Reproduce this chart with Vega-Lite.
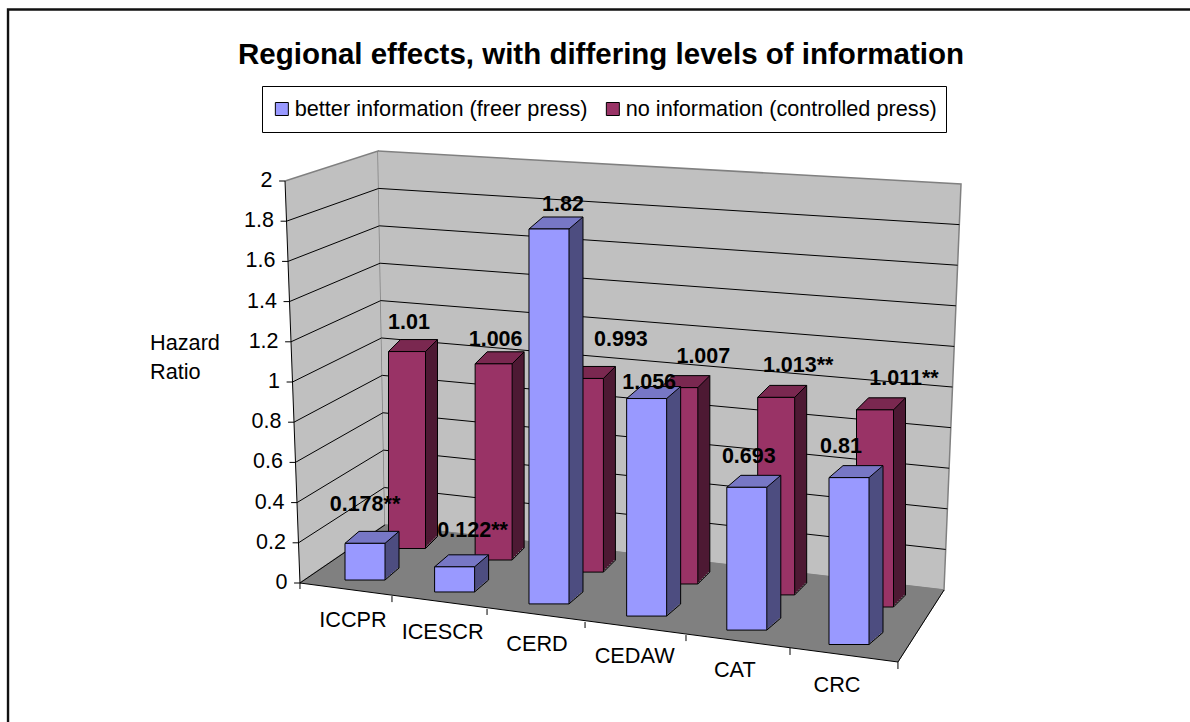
{
"$schema":"https://vega.github.io/schema/vega-lite/v6.json",
"width":1190,"height":722,"padding":0,"autosize":{"type":"none"},"background":"white",
"config":{"view":{"stroke":null},"font":"Liberation Sans"},
"title":{"text":"Regional effects, with differing levels of information","anchor":"middle","frame":"group","fontSize":29.5,"fontWeight":"bold","font":"Liberation Sans","color":"black","offset":-70,"dx":6},
"datasets":{
"bars":[
{"treaty":"ICCPR","n":1,"series":"better information (freer press)","value":0.178,"label":"0.178**"},
{"treaty":"ICESCR","n":2,"series":"better information (freer press)","value":0.122,"label":"0.122**"},
{"treaty":"CERD","n":3,"series":"better information (freer press)","value":1.82,"label":"1.82"},
{"treaty":"CEDAW","n":4,"series":"better information (freer press)","value":1.056,"label":"1.056"},
{"treaty":"CAT","n":5,"series":"better information (freer press)","value":0.693,"label":"0.693"},
{"treaty":"CRC","n":6,"series":"better information (freer press)","value":0.81,"label":"0.81"},
{"treaty":"ICCPR","n":1,"series":"no information (controlled press)","value":1.01,"label":"1.01"},
{"treaty":"ICESCR","n":2,"series":"no information (controlled press)","value":1.006,"label":"1.006"},
{"treaty":"CERD","n":3,"series":"no information (controlled press)","value":0.993,"label":"0.993"},
{"treaty":"CEDAW","n":4,"series":"no information (controlled press)","value":1.007,"label":"1.007"},
{"treaty":"CAT","n":5,"series":"no information (controlled press)","value":1.013,"label":"1.013**"},
{"treaty":"CRC","n":6,"series":"no information (controlled press)","value":1.011,"label":"1.011**"}
],
"depth":[
{"treaty":"ICCPR","liftA":0.313,"liftB":0.3},
{"treaty":"ICESCR","liftA":0.255,"liftB":0.241},
{"treaty":"CERD","liftA":0.197,"liftB":0.179},
{"treaty":"CEDAW","liftA":0.138,"liftB":0.118},
{"treaty":"CAT","liftA":0.07,"liftB":0.062},
{"treaty":"CRC","liftA":0,"liftB":0}
],
"walls":[
{"p":"left","i":1,"gx":0.238,"gy":2},{"p":"left","i":2,"gx":1.183,"gy":2.149},{"p":"left","i":3,"gx":1.254,"gy":0.289},{"p":"left","i":4,"gx":0.39,"gy":0},
{"p":"back","i":1,"gx":1.183,"gy":2.149},{"p":"back","i":2,"gx":7.108,"gy":1.985},{"p":"back","i":3,"gx":6.935,"gy":-0.035},{"p":"back","i":4,"gx":1.254,"gy":0.289}
],
"floor":[
{"p":"floor","i":1,"gx":0.39,"gy":0},{"p":"floor","i":2,"gx":1.254,"gy":0.289},{"p":"floor","i":3,"gx":6.935,"gy":-0.035},{"p":"floor","i":4,"gx":6.467,"gy":-0.393}
],
"grid":[
{"k":"0","i":0,"gx":0.33,"gy":0},{"k":"0","i":1,"gx":0.39,"gy":0},
{"k":"0.2","i":0,"gx":0.315,"gy":0.2},{"k":"0.2","i":1,"gx":0.375,"gy":0.2},{"k":"0.2","i":2,"gx":1.247,"gy":0.475},{"k":"0.2","i":3,"gx":6.952,"gy":0.167},
{"k":"0.4","i":0,"gx":0.3,"gy":0.4},{"k":"0.4","i":1,"gx":0.36,"gy":0.4},{"k":"0.4","i":2,"gx":1.24,"gy":0.661},{"k":"0.4","i":3,"gx":6.97,"gy":0.369},
{"k":"0.6","i":0,"gx":0.284,"gy":0.6},{"k":"0.6","i":1,"gx":0.344,"gy":0.6},{"k":"0.6","i":2,"gx":1.233,"gy":0.847},{"k":"0.6","i":3,"gx":6.987,"gy":0.571},
{"k":"0.8","i":0,"gx":0.269,"gy":0.8},{"k":"0.8","i":1,"gx":0.329,"gy":0.8},{"k":"0.8","i":2,"gx":1.226,"gy":1.033},{"k":"0.8","i":3,"gx":7.004,"gy":0.773},
{"k":"1","i":0,"gx":0.254,"gy":1},{"k":"1","i":1,"gx":0.314,"gy":1},{"k":"1","i":2,"gx":1.218,"gy":1.219},{"k":"1","i":3,"gx":7.021,"gy":0.975},
{"k":"1.2","i":0,"gx":0.239,"gy":1.2},{"k":"1.2","i":1,"gx":0.299,"gy":1.2},{"k":"1.2","i":2,"gx":1.211,"gy":1.405},{"k":"1.2","i":3,"gx":7.039,"gy":1.177},
{"k":"1.4","i":0,"gx":0.223,"gy":1.4},{"k":"1.4","i":1,"gx":0.283,"gy":1.4},{"k":"1.4","i":2,"gx":1.204,"gy":1.591},{"k":"1.4","i":3,"gx":7.056,"gy":1.379},
{"k":"1.6","i":0,"gx":0.208,"gy":1.6},{"k":"1.6","i":1,"gx":0.268,"gy":1.6},{"k":"1.6","i":2,"gx":1.197,"gy":1.777},{"k":"1.6","i":3,"gx":7.073,"gy":1.581},
{"k":"1.8","i":0,"gx":0.193,"gy":1.8},{"k":"1.8","i":1,"gx":0.253,"gy":1.8},{"k":"1.8","i":2,"gx":1.19,"gy":1.963},{"k":"1.8","i":3,"gx":7.091,"gy":1.783},
{"k":"2","i":0,"gx":0.178,"gy":2},{"k":"2","i":1,"gx":0.238,"gy":2}
],
"edges":[
{"k":"lw","i":1,"gx":0.238,"gy":2},{"k":"lw","i":2,"gx":0.39,"gy":0},
{"k":"ff","i":1,"gx":0.39,"gy":0},{"k":"ff","i":2,"gx":6.467,"gy":-0.393},{"k":"ff","i":3,"gx":6.935,"gy":-0.035},
{"k":"fl","i":1,"gx":0.39,"gy":0},{"k":"fl","i":2,"gx":1.254,"gy":0.289},
{"k":"t0","i":1,"gx":0.39,"gy":0},{"k":"t0","i":2,"gx":0.39,"gy":-0.03},
{"k":"t1","i":1,"gx":1.325,"gy":-0.065},{"k":"t1","i":2,"gx":1.325,"gy":-0.095},
{"k":"t2","i":1,"gx":2.291,"gy":-0.129},{"k":"t2","i":2,"gx":2.291,"gy":-0.159},
{"k":"t3","i":1,"gx":3.287,"gy":-0.194},{"k":"t3","i":2,"gx":3.287,"gy":-0.224},
{"k":"t4","i":1,"gx":4.313,"gy":-0.259},{"k":"t4","i":2,"gx":4.313,"gy":-0.289},
{"k":"t5","i":1,"gx":5.37,"gy":-0.323},{"k":"t5","i":2,"gx":5.37,"gy":-0.358},
{"k":"t6","i":1,"gx":6.467,"gy":-0.393},{"k":"t6","i":2,"gx":6.467,"gy":-0.428}
],
"frame":[{"i":1,"gx":-2.577,"gy":-0.692},{"i":2,"gx":-2.577,"gy":2.853},{"i":3,"gx":9.435,"gy":2.853}],
"ticks":[
{"t":"0","gx":0.39,"gy":0},{"t":"0.2","gx":0.375,"gy":0.2},{"t":"0.4","gx":0.36,"gy":0.4},{"t":"0.6","gx":0.344,"gy":0.6},{"t":"0.8","gx":0.329,"gy":0.8},{"t":"1","gx":0.314,"gy":1},{"t":"1.2","gx":0.299,"gy":1.2},{"t":"1.4","gx":0.283,"gy":1.4},{"t":"1.6","gx":0.268,"gy":1.6},{"t":"1.8","gx":0.253,"gy":1.8},{"t":"2","gx":0.238,"gy":2}
],
"ytitle":[{"t":"Hazard","gx":-1.134,"gy":1.194},{"t":"Ratio","gx":-1.134,"gy":1.05}]
},
"resolve":{"scale":{"x":"independent","y":"independent","color":"shared"}},
"layer":[
{
"encoding":{
"x":{"field":"gx","type":"quantitative","axis":null,"scale":{"domain":[1,6],"range":[360,852],"zero":false,"nice":false}},
"y":{"field":"gy","type":"quantitative","axis":null,"scale":{"domain":[0,2],"range":[583,181],"zero":false,"nice":false}}
},
"layer":[
{"data":{"name":"frame"},"mark":{"type":"line","stroke":"#111111","strokeWidth":2.4},"encoding":{"order":{"field":"i"}}},
{"data":{"name":"walls"},"mark":{"type":"line","fill":"#c0c0c0","stroke":"#808080","strokeWidth":1.5},"encoding":{"detail":{"field":"p"},"order":{"field":"i"}}},
{"data":{"name":"grid"},"mark":{"type":"line","stroke":"#000000","strokeWidth":1},"encoding":{"detail":{"field":"k"},"order":{"field":"i"}}},
{"data":{"name":"floor"},"mark":{"type":"line","fill":"#808080","stroke":"#808080","strokeWidth":1},"encoding":{"detail":{"field":"p"},"order":{"field":"i"}}},
{"data":{"name":"edges"},"mark":{"type":"line","stroke":"#000000","strokeWidth":1},"encoding":{"detail":{"field":"k"},"order":{"field":"i"}}},
{"data":{"name":"ticks"},"mark":{"type":"text","align":"right","baseline":"middle","fontSize":21.5,"dx":-12.5,"color":"black"},"encoding":{"text":{"field":"t"}}},
{"data":{"name":"ytitle"},"mark":{"type":"text","align":"left","baseline":"middle","fontSize":21.7,"color":"black"},"encoding":{"text":{"field":"t"}}}
]
},
{
"data":{"name":"bars"},
"transform":[
{"filter":"datum.series=='no information (controlled press)'"},
{"lookup":"treaty","from":{"data":{"name":"depth"},"key":"treaty","fields":["liftB"]}},
{"fold":["liftB","value"],"as":["part","h"]},
{"stack":"h","groupby":["treaty"],"sort":[{"field":"part","order":"ascending"}],"as":["y0","y1"]},
{"filter":"datum.part=='value'"}
],
"encoding":{
"x":{"field":"n","type":"quantitative","axis":null,"scale":{"type":"pow","exponent":1.1,"domain":[1,6],"range":[402,880],"zero":false,"nice":false}},
"y":{"field":"y1","type":"quantitative","axis":null,"scale":{"domain":[0,2],"range":[607,217],"zero":false,"nice":false}}
},
"layer":[
{"mark":{"type":"bar","size":37,"color":"#4d1933","xOffset":2,"yOffset":-2,"y2Offset":-2},"encoding":{"y2":{"field":"y0"}}},
{"mark":{"type":"bar","size":37,"color":"#4d1933","xOffset":4,"yOffset":-4,"y2Offset":-4},"encoding":{"y2":{"field":"y0"}}},
{"mark":{"type":"bar","size":37,"color":"#4d1933","xOffset":6,"yOffset":-6,"y2Offset":-6},"encoding":{"y2":{"field":"y0"}}},
{"mark":{"type":"bar","size":37,"color":"#4d1933","xOffset":8,"yOffset":-8,"y2Offset":-8},"encoding":{"y2":{"field":"y0"}}},
{"mark":{"type":"bar","size":37,"color":"#4d1933","xOffset":10,"yOffset":-10,"y2Offset":-10},"encoding":{"y2":{"field":"y0"}}},
{"mark":{"type":"bar","size":37,"color":"#4d1933","xOffset":12,"yOffset":-12,"y2Offset":-12},"encoding":{"y2":{"field":"y0"}}},
{"mark":{"type":"rule","color":"black","strokeWidth":1,"xOffset":30.5,"yOffset":-12,"y2Offset":-12},"encoding":{"y2":{"field":"y0"}}},
{"mark":{"type":"point","shape":"M-18.5 0L18.5 0L30.5 -12L-6.5 -12Z","size":4,"filled":true,"fill":"#7a2850","stroke":"black","strokeWidth":1,"opacity":1}},
{"mark":{"type":"point","shape":"M18.5 0L30.5 -12","size":4,"filled":false,"stroke":"black","strokeWidth":1,"opacity":1},"encoding":{"y":{"field":"y0","type":"quantitative"}}},
{"mark":{"type":"bar","size":37,"stroke":"black","strokeWidth":1},"encoding":{"y2":{"field":"y0"},"color":{"field":"series","type":"nominal","scale":{"domain":["better information (freer press)","no information (controlled press)"],"range":["#9999ff","#993366"]},"legend":{"orient":"none","legendX":262,"legendY":86,"direction":"horizontal","title":null,"labelFontSize":21.7,"labelColor":"black","labelFont":"Liberation Sans","symbolType":"square","symbolSize":169,"symbolStrokeColor":"black","symbolStrokeWidth":1,"symbolOpacity":1,"strokeColor":"black","padding":9,"clipHeight":28,"columnPadding":14,"labelOffset":2,"labelLimit":400}}}},
{"transform":[{"filter":"datum.n==1"}],"mark":{"type":"text","fontWeight":"bold","fontSize":21.5,"color":"black","dx":2,"dy":-28.5},"encoding":{"text":{"field":"label"}}},
{"transform":[{"filter":"datum.n==2"}],"mark":{"type":"text","fontWeight":"bold","fontSize":21.5,"color":"black","dx":2,"dy":-24},"encoding":{"text":{"field":"label"}}},
{"transform":[{"filter":"datum.n==3"}],"mark":{"type":"text","fontWeight":"bold","fontSize":21.5,"color":"black","dx":36,"dy":-38},"encoding":{"text":{"field":"label"}}},
{"transform":[{"filter":"datum.n==4"}],"mark":{"type":"text","fontWeight":"bold","fontSize":21.5,"color":"black","dx":24,"dy":-30.5},"encoding":{"text":{"field":"label"}}},
{"transform":[{"filter":"datum.n==5"}],"mark":{"type":"text","fontWeight":"bold","fontSize":21.5,"color":"black","dx":22,"dy":-31.5},"encoding":{"text":{"field":"label"}}},
{"transform":[{"filter":"datum.n==6"}],"mark":{"type":"text","fontWeight":"bold","fontSize":21.5,"color":"black","dx":29,"dy":-31},"encoding":{"text":{"field":"label"}}}
]
},
{
"data":{"name":"bars"},
"transform":[
{"filter":"datum.series=='better information (freer press)'"},
{"lookup":"treaty","from":{"data":{"name":"depth"},"key":"treaty","fields":["liftA"]}},
{"fold":["liftA","value"],"as":["part","h"]},
{"stack":"h","groupby":["treaty"],"sort":[{"field":"part","order":"ascending"}],"as":["y0","y1"]},
{"filter":"datum.part=='value'"}
],
"encoding":{
"x":{"field":"n","type":"quantitative","axis":null,"scale":{"type":"pow","exponent":1.1,"domain":[1,6],"range":[360,854],"zero":false,"nice":false}},
"y":{"field":"y1","type":"quantitative","axis":null,"scale":{"domain":[0,2],"range":[644.5,232.5],"zero":false,"nice":false}}
},
"layer":[
{"mark":{"type":"bar","size":40,"color":"#4d4d80","xOffset":2,"yOffset":-1.7,"y2Offset":-1.7},"encoding":{"y2":{"field":"y0"}}},
{"mark":{"type":"bar","size":40,"color":"#4d4d80","xOffset":4,"yOffset":-3.4,"y2Offset":-3.4},"encoding":{"y2":{"field":"y0"}}},
{"mark":{"type":"bar","size":40,"color":"#4d4d80","xOffset":6,"yOffset":-5.1,"y2Offset":-5.1},"encoding":{"y2":{"field":"y0"}}},
{"mark":{"type":"bar","size":40,"color":"#4d4d80","xOffset":8,"yOffset":-6.9,"y2Offset":-6.9},"encoding":{"y2":{"field":"y0"}}},
{"mark":{"type":"bar","size":40,"color":"#4d4d80","xOffset":10,"yOffset":-8.6,"y2Offset":-8.6},"encoding":{"y2":{"field":"y0"}}},
{"mark":{"type":"bar","size":40,"color":"#4d4d80","xOffset":12,"yOffset":-10.3,"y2Offset":-10.3},"encoding":{"y2":{"field":"y0"}}},
{"mark":{"type":"bar","size":40,"color":"#4d4d80","xOffset":14,"yOffset":-12,"y2Offset":-12},"encoding":{"y2":{"field":"y0"}}},
{"mark":{"type":"rule","color":"black","strokeWidth":1,"xOffset":34,"yOffset":-12,"y2Offset":-12},"encoding":{"y2":{"field":"y0"}}},
{"mark":{"type":"point","shape":"M-20 0L20 0L34 -12L-6 -12Z","size":4,"filled":true,"fill":"#7777c5","stroke":"black","strokeWidth":1,"opacity":1}},
{"mark":{"type":"point","shape":"M20 0L34 -12","size":4,"filled":false,"stroke":"black","strokeWidth":1,"opacity":1},"encoding":{"y":{"field":"y0","type":"quantitative"}}},
{"mark":{"type":"bar","size":40,"stroke":"black","strokeWidth":1},"encoding":{"y2":{"field":"y0"},"color":{"field":"series","type":"nominal","scale":{"domain":["better information (freer press)","no information (controlled press)"],"range":["#9999ff","#993366"]},"legend":null}}},
{"mark":{"type":"text","fontSize":21.7,"color":"black","dx":-12,"dy":40},"encoding":{"y":{"field":"y0","type":"quantitative"},"text":{"field":"treaty"}}},
{"transform":[{"filter":"datum.n==1"}],"mark":{"type":"text","fontWeight":"bold","fontSize":21.5,"color":"black","dx":0,"dy":-38},"encoding":{"text":{"field":"label"}}},
{"transform":[{"filter":"datum.n==2"}],"mark":{"type":"text","fontWeight":"bold","fontSize":21.5,"color":"black","dx":18,"dy":-36},"encoding":{"text":{"field":"label"}}},
{"transform":[{"filter":"datum.n==3"}],"mark":{"type":"text","fontWeight":"bold","fontSize":21.5,"color":"black","dx":14,"dy":-24},"encoding":{"text":{"field":"label"}}},
{"transform":[{"filter":"datum.n==4"}],"mark":{"type":"text","fontWeight":"bold","fontSize":21.5,"color":"black","dx":2.5,"dy":-15.5},"encoding":{"text":{"field":"label"}}},
{"transform":[{"filter":"datum.n==5"}],"mark":{"type":"text","fontWeight":"bold","fontSize":21.5,"color":"black","dx":2,"dy":-30},"encoding":{"text":{"field":"label"}}},
{"transform":[{"filter":"datum.n==6"}],"mark":{"type":"text","fontWeight":"bold","fontSize":21.5,"color":"black","dx":-8,"dy":-31},"encoding":{"text":{"field":"label"}}}
]
}
]
}
